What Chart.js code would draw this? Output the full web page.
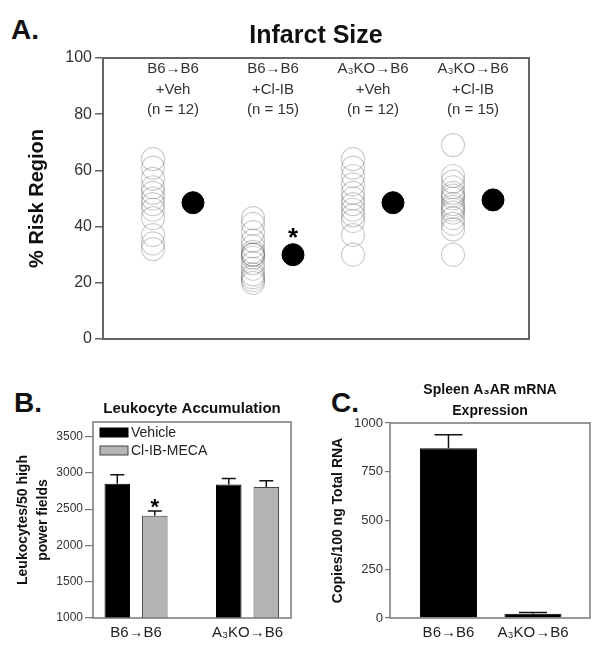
<!DOCTYPE html>
<html>
<head>
<meta charset="utf-8">
<script src="https://cdn.jsdelivr.net/npm/chart.js@4.4.0/dist/chart.umd.min.js"></script>
<style>
  body { margin: 0; background: #fff; }
  #wrap { position: relative; width: 604px; height: 653px; font-family: "Liberation Sans", Arial, sans-serif; }
  canvas { position: absolute; }
  .letter { position: absolute; font-weight: bold; font-size: 28px; line-height: 28px; color: #111; }
</style>
</head>
<body>
<div id="wrap">
  <div class="letter" style="left:11px;top:16px">A.</div>
  <div class="letter" style="left:14px;top:389px">B.</div>
  <div class="letter" style="left:331px;top:389px">C.</div>
  <canvas id="chartA" width="604" height="360" style="left:0;top:0"></canvas>
  <canvas id="chartB" width="300" height="273" style="left:0;top:380px"></canvas>
  <canvas id="chartC" width="304" height="273" style="left:300px;top:380px"></canvas>
</div>
<script>
// Panel A - infarct size, individual animals (% risk region)
const infarctLines = [
    ["B6→B6", "+Veh", "(n = 12)"],
    ["B6→B6", "+Cl-IB", "(n = 15)"],
    ["A₃KO→B6", "+Veh", "(n = 12)"],
    ["A₃KO→B6", "+Cl-IB", "(n = 15)"]
];
const vehB6 = [64, 61, 57, 54, 52, 50, 48, 46, 43, 37, 34, 32];
const clibB6 = [43, 41, 38, 35, 33, 31, 30, 30, 29, 27, 25, 23, 22, 21, 20];
const vehKO = [64, 61, 58, 55, 52, 50, 48, 46, 44, 42, 37, 30];
const clibKO = [69, 58, 56, 54, 52, 51, 50, 48, 47, 46, 45, 43, 41, 39, 30];
const infarctMeans = [48.5, 30, 48.5, 49.5];
const riskTicks = [0, 20, 40, 60, 80, 100];

// Panel B - leukocyte accumulation
const leukoGroups = ["B6→B6", "A₃KO→B6"];
const leukoVehicle = [2850, 2840];
const leukoVehicleErr = [125, 80];
const leukoClib = [2410, 2805];
const leukoClibErr = [65, 85];
const leukoTicks = [1000, 1500, 2000, 2500, 3000, 3500];

// Panel C - spleen A3AR mRNA
const mrnaGroups = ["B6→B6", "A₃KO→B6"];
const mrnaCopies = [870, 22];
const mrnaErr = [70, 6];
const mrnaTicks = [0, 250, 500, 750, 1000];

const FF = '"Liberation Sans", Arial, sans-serif';
Chart.defaults.font.family = FF;
Chart.defaults.animation = false;

function drawFrame(ctx, a, color, width) {
    ctx.save();
    ctx.strokeStyle = color;
    ctx.lineWidth = width;
    ctx.strokeRect(a.left, a.top, a.right - a.left, a.bottom - a.top);
    ctx.restore();
}

function drawErrors(chart, dsIndex, values, errs, capHalf) {
    const ctx = chart.ctx;
    const ys = chart.scales.y;
    const bars = chart.getDatasetMeta(dsIndex).data;
    ctx.save();
    ctx.strokeStyle = "#111";
    ctx.lineWidth = 1.5;
    values.forEach(function (v, i) {
        const x = bars[i].x;
        const y0 = ys.getPixelForValue(v);
        const y1 = ys.getPixelForValue(v + errs[i]);
        ctx.beginPath();
        ctx.moveTo(x, y0);
        ctx.lineTo(x, y1);
        ctx.moveTo(x - capHalf, y1);
        ctx.lineTo(x + capHalf, y1);
        ctx.stroke();
    });
    ctx.restore();
}

// ---------- A ----------
const openPoints = [];
const infarctSeries = [vehB6, clibB6, vehKO, clibKO];
infarctSeries.forEach(function (arr, g) {
    arr.forEach(function (v) { openPoints.push({ x: g + 1 - 0.2, y: v }); });
});
const meanPoints = infarctMeans.map(function (v, g) { return { x: g + 1 + 0.2, y: v }; });

new Chart(document.getElementById("chartA"), {
    type: "scatter",
    data: {
        datasets: [{
            data: openPoints,
            pointRadius: 11.5,
            pointBackgroundColor: "rgba(0,0,0,0)",
            pointBorderColor: "rgba(0,0,0,0.2)",
            pointBorderWidth: 1.2
        }, {
            data: meanPoints,
            pointRadius: 11,
            pointBackgroundColor: "#000",
            pointBorderColor: "#000"
        }]
    },
    options: {
        responsive: false,
        layout: { padding: { left: 0, right: 75, top: 0, bottom: 21 } },
        plugins: {
            legend: { display: false },
            tooltip: { enabled: false },
            title: {
                display: true,
                text: "Infarct Size",
                fullSize: false,
                color: "#111",
                font: { size: 25, weight: "bold" },
                padding: { top: 21, bottom: 7 }
            }
        },
        scales: {
            x: { type: "linear", min: 0.3, max: 4.56, display: false },
            y: {
                min: 0, max: 100,
                afterFit: function (s) { s.width = 103; },
                afterBuildTicks: function (s) { s.ticks = riskTicks.map(function (v) { return { value: v }; }); },
                ticks: { color: "#333", font: { size: 16 }, padding: 3, callback: function (v) { return String(v); } },
                grid: { drawOnChartArea: false, tickLength: 8, color: "#666", lineWidth: 1.5 },
                border: { display: false },
                title: {
                    display: true,
                    text: "% Risk Region",
                    color: "#111",
                    font: { size: 20, weight: "bold" },
                    padding: { top: 25 }
                }
            }
        }
    },
    plugins: [{
        id: "annA",
        afterDatasetsDraw: function (chart) {
            const ctx = chart.ctx, a = chart.chartArea, xs = chart.scales.x;
            drawFrame(ctx, a, "#666", 2);
            ctx.save();
            ctx.fillStyle = "#333";
            ctx.font = "15px " + FF;
            ctx.textAlign = "center";
            ctx.textBaseline = "middle";
            infarctLines.forEach(function (lines, g) {
                const x = xs.getPixelForValue(g + 1);
                lines.forEach(function (t, k) { ctx.fillText(t, x, a.top + 11 + k * 20.5); });
            });
            const p = chart.getDatasetMeta(1).data[1];
            ctx.fillStyle = "#000";
            ctx.font = "bold 26px " + FF;
            ctx.textBaseline = "alphabetic";
            ctx.fillText("*", p.x, p.y - 9);
            ctx.restore();
        }
    }]
});

// ---------- B ----------
new Chart(document.getElementById("chartB"), {
    type: "bar",
    data: {
        datasets: [{
            label: "Vehicle",
            data: leukoVehicle.map(function (v, i) { return { x: i + 1, y: v }; }),
            backgroundColor: "#000",
            borderColor: "#000",
            borderWidth: 1
        }, {
            label: "Cl-IB-MECA",
            data: leukoClib.map(function (v, i) { return { x: i + 1, y: v }; }),
            backgroundColor: "#b4b4b4",
            borderColor: "#444",
            borderWidth: 1
        }]
    },
    options: {
        responsive: false,
        categoryPercentage: 0.673,
        barPercentage: 0.68,
        layout: { padding: { left: 0, right: 9, top: 0, bottom: 0 } },
        plugins: {
            legend: { display: false },
            tooltip: { enabled: false },
            title: {
                display: true,
                text: "Leukocyte Accumulation",
                fullSize: false,
                color: "#111",
                font: { size: 15, weight: "bold" },
                padding: { top: 20, bottom: 4 }
            }
        },
        scales: {
            x: {
                type: "linear", min: 0.614, max: 2.39, offset: false,
                afterFit: function (s) { s.height = 35; },
                afterBuildTicks: function (s) { s.ticks = leukoGroups.map(function (g, i) { return { value: i + 1 }; }); },
                ticks: { color: "#222", font: { size: 15 }, padding: 6, callback: function (v) { return leukoGroups[v - 1]; } },
                grid: { display: false, drawTicks: false, offset: false },
                border: { display: false }
            },
            y: {
                min: 1000, max: 3700,
                afterFit: function (s) { s.width = 93; },
                afterBuildTicks: function (s) { s.ticks = leukoTicks.map(function (v) { return { value: v }; }); },
                ticks: { color: "#333", font: { size: 12 }, padding: 2, callback: function (v) { return String(v); } },
                grid: { drawOnChartArea: false, tickLength: 8, color: "#777", lineWidth: 1.2 },
                border: { display: false },
                title: {
                    display: true,
                    text: ["Leukocytes/50 high", "power fields"],
                    color: "#111",
                    font: { size: 14, weight: "bold", lineHeight: 1.43 },
                    padding: { top: 13 }
                }
            }
        }
    },
    plugins: [{
        id: "annB",
        afterDatasetsDraw: function (chart) {
            const ctx = chart.ctx, a = chart.chartArea, ys = chart.scales.y;
            drawFrame(ctx, a, "#777", 1.5);
            drawErrors(chart, 0, leukoVehicle, leukoVehicleErr, 7);
            drawErrors(chart, 1, leukoClib, leukoClibErr, 7);
            ctx.save();
            // legend in the top-left of the plot
            chart.data.datasets.forEach(function (ds, i) {
                const y = a.top + 6 + i * 18;
                ctx.fillStyle = ds.backgroundColor;
                ctx.strokeStyle = ds.borderColor;
                ctx.lineWidth = 1;
                ctx.fillRect(a.left + 7, y, 28, 9);
                ctx.strokeRect(a.left + 7, y, 28, 9);
                ctx.fillStyle = "#222";
                ctx.font = "14px " + FF;
                ctx.textAlign = "left";
                ctx.textBaseline = "middle";
                ctx.fillText(ds.label, a.left + 38, y + 5);
            });
            // significance mark
            const bar = chart.getDatasetMeta(1).data[0];
            ctx.fillStyle = "#000";
            ctx.font = "bold 22px " + FF;
            ctx.textAlign = "center";
            ctx.textBaseline = "alphabetic";
            ctx.fillText("*", bar.x, ys.getPixelForValue(leukoClib[0] + leukoClibErr[0]) + 3);
            ctx.restore();
        }
    }]
});

// ---------- C ----------
new Chart(document.getElementById("chartC"), {
    type: "bar",
    data: {
        datasets: [{
            label: "Copies",
            data: mrnaCopies.map(function (v, i) { return { x: i + 1, y: v }; }),
            backgroundColor: "#000",
            borderColor: "#000",
            borderWidth: 1
        }]
    },
    options: {
        responsive: false,
        categoryPercentage: 1,
        barPercentage: 0.675,
        layout: { padding: { left: 0, right: 14, top: 0, bottom: 0 } },
        plugins: {
            legend: { display: false },
            tooltip: { enabled: false },
            title: {
                display: true,
                text: ["Spleen A₃AR mRNA", "Expression"],
                fullSize: false,
                color: "#111",
                font: { size: 14, weight: "bold", lineHeight: 1.5 },
                padding: { top: 0, bottom: 1 }
            }
        },
        scales: {
            x: {
                type: "linear", min: 0.308, max: 2.675, offset: false,
                afterFit: function (s) { s.height = 35; },
                afterBuildTicks: function (s) { s.ticks = mrnaGroups.map(function (g, i) { return { value: i + 1 }; }); },
                ticks: { color: "#222", font: { size: 15 }, padding: 6, callback: function (v) { return mrnaGroups[v - 1]; } },
                grid: { display: false, drawTicks: false, offset: false },
                border: { display: false }
            },
            y: {
                min: 0, max: 1000,
                afterFit: function (s) { s.width = 90; },
                afterBuildTicks: function (s) { s.ticks = mrnaTicks.map(function (v) { return { value: v }; }); },
                ticks: { color: "#333", font: { size: 13 }, padding: 2, callback: function (v) { return String(v); } },
                grid: { drawOnChartArea: false, tickLength: 5, color: "#777", lineWidth: 1.2 },
                border: { display: false },
                title: {
                    display: true,
                    text: "Copies/100 ng Total RNA",
                    color: "#111",
                    font: { size: 14, weight: "bold" },
                    padding: { top: 30 }
                }
            }
        }
    },
    plugins: [{
        id: "annC",
        afterDatasetsDraw: function (chart) {
            drawFrame(chart.ctx, chart.chartArea, "#777", 1.5);
            drawErrors(chart, 0, mrnaCopies, mrnaErr, 14);
        }
    }]
});
</script>
</body>
</html>
